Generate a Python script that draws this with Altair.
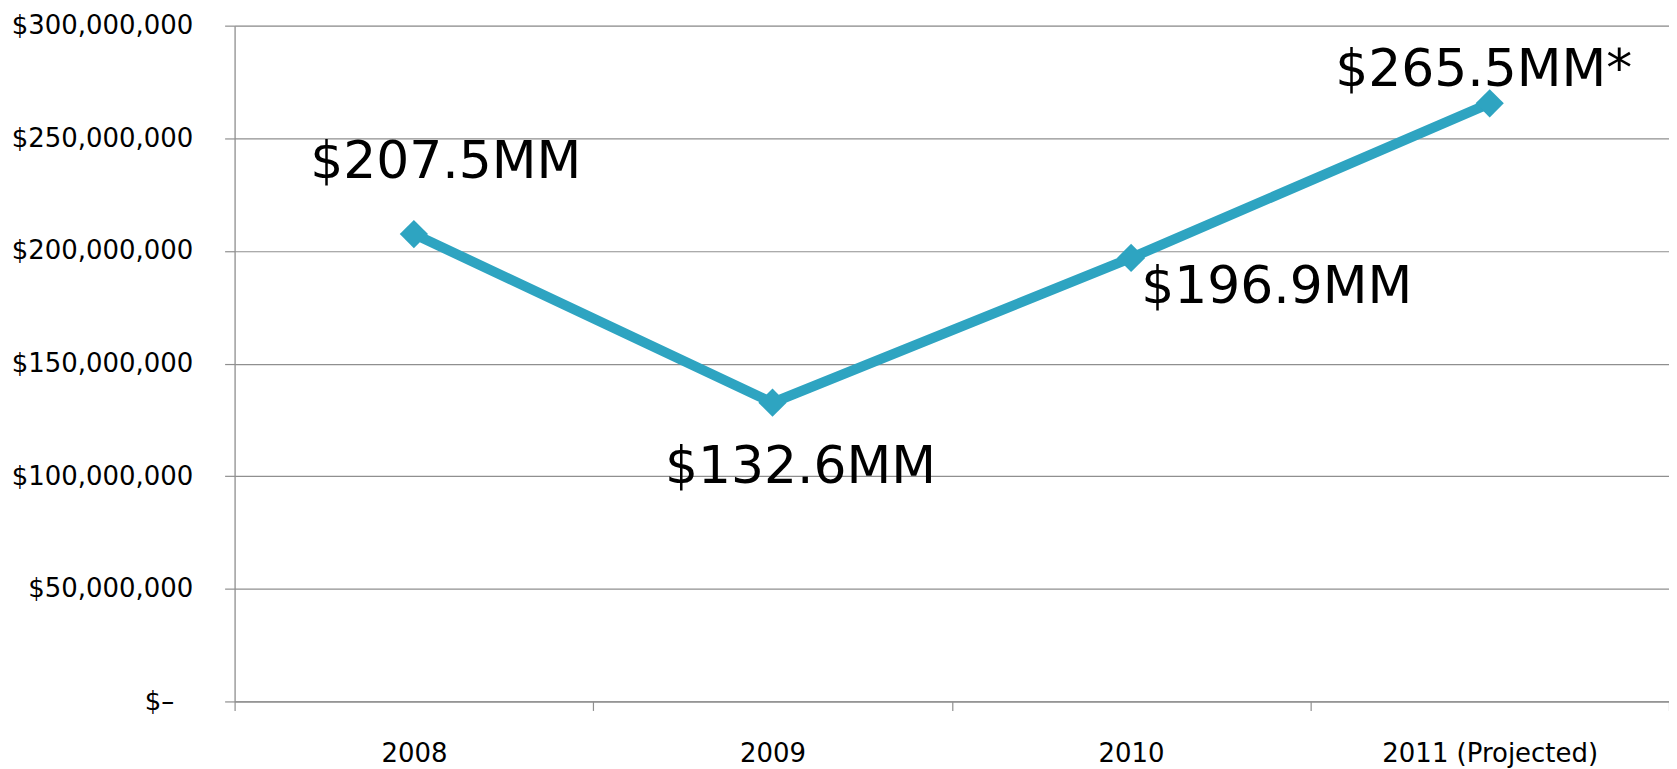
import altair as alt
import pandas as pd

years = ["2008", "2009", "2010", "2011 (Projected)"]
values = [207.5e6, 132.6e6, 196.9e6, 265.5e6]
labels = ["$207.5MM", "$132.6MM", "$196.9MM", "$265.5MM*"]
y_ticks = [0, 50e6, 100e6, 150e6, 200e6, 250e6, 300e6]

df = pd.DataFrame({"year": years, "value": values, "label": labels})

LINE = "#2ea4c1"
GRID = "#8f8f8f"
FONT = "DejaVu Sans"

x_enc = alt.X(
    "year:N",
    sort=years,
    scale=alt.Scale(type="band", paddingInner=0, paddingOuter=0),
    axis=alt.Axis(
        title=None, labelAngle=0, tickBand="extent", tickSize=9,
        tickColor=GRID, domainColor=GRID, domainWidth=1.2, tickWidth=1.2,
        labelFont=FONT, labelFontSize=26, labelColor="black", labelPadding=30,
        labelLimit=0,
    ),
)
y_enc = alt.Y(
    "value:Q",
    scale=alt.Scale(domain=[0, 300e6], nice=False, zero=True),
    axis=alt.Axis(
        title=None, values=y_ticks, grid=True, gridColor=GRID, gridWidth=1.2,
        tickSize=10, tickColor=GRID, tickWidth=1.2, domainColor=GRID, domainWidth=1.2,
        labelFont=FONT, labelFontSize=26, labelColor="black", labelPadding=32,
        labelLimit=0,
        labelExpr="datum.value == 0 ? '$\u2013\u2800' : '$' + format(datum.value, ',')",
    ),
)

base = alt.Chart(df).encode(x=x_enc, y=y_enc)

line = base.mark_line(color=LINE, strokeWidth=10)
pts = base.mark_point(shape="diamond", filled=True, opacity=1, size=800, color=LINE)

offsets = [(32, -56), (28, 80), (146, 45), (-6, -17)]
texts = []
for yr, (dx, dy) in zip(years, offsets):
    texts.append(
        base.transform_filter(alt.datum.year == yr)
        .mark_text(font=FONT, fontSize=52, color="black", align="center",
                   baseline="alphabetic", dx=dx, dy=dy)
        .encode(text="label:N")
    )

chart = alt.layer(line, pts, *texts).properties(
    width=1437, height=677,
    autosize=alt.AutoSizeParams(type="none"),
    padding={"left": 227, "top": 17, "right": 0, "bottom": 66},
).configure_view(stroke=None).configure(background="white")

chart.save("out.html", embed_options={"renderer": "svg", "actions": False})
